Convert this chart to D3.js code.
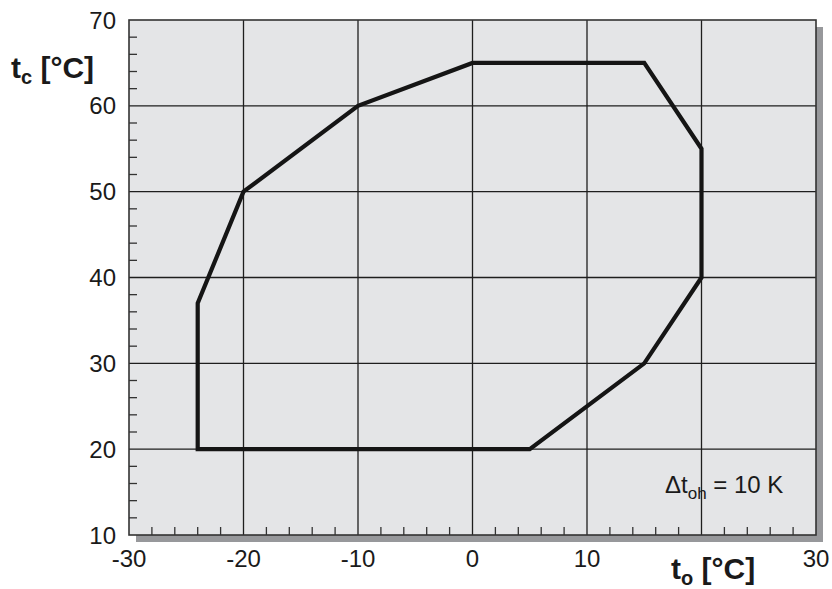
<!DOCTYPE html>
<html>
<head>
<meta charset="utf-8">
<script src="https://cdn.jsdelivr.net/npm/d3@7"></script>
<style>
  body { margin: 0; background: #fff; }
  svg text { font-family: "Liberation Sans", Arial, sans-serif; }
</style>
</head>
<body>
<div id="chart"></div>
<script>
// operating envelope, evaporating temp (x) vs condensing temp (y)
var envelopeTo = [-24, -24, 5, 15, 20, 20, 15, 0, -10, -20, -24];
var envelopeTc = [37, 20, 20, 30, 40, 55, 65, 65, 60, 50, 37];
var xTicks = [-30, -20, -10, 0, 10, 20, 30];
var xTickLabels = [-30, -20, -10, 0, 10, 30]; // 20 sits under the axis title
var yTicks = [10, 20, 30, 40, 50, 60, 70];

function init() {
    var w = 832, h = 589;
    var left = 129, right = 816, top = 20, bottom = 535;

    var x = d3.scaleLinear().domain([-30, 30]).range([left, right]);
    var y = d3.scaleLinear().domain([10, 70]).range([bottom, top]);

    var svg = d3.select("#chart").append("svg")
                .attr("width", w)
                .attr("height", h);

    // drop shadow
    svg.append("rect")
       .attr("x", left + 7).attr("y", top + 7)
       .attr("width", right - left).attr("height", bottom - top)
       .attr("fill", "#97989b");

    svg.append("rect")
       .attr("x", left).attr("y", top)
       .attr("width", right - left).attr("height", bottom - top)
       .attr("fill", "#e4e5e7");

    // minor ticks every 2 units
    var minorX = d3.range(-28, 30, 2).filter(function(v) { return v % 10 !== 0; });
    var minorY = d3.range(12, 70, 2).filter(function(v) { return v % 10 !== 0; });
    svg.append("g").selectAll("line").data(minorX).enter().append("line")
       .attr("x1", function(d) { return x(d); }).attr("x2", function(d) { return x(d); })
       .attr("y1", bottom).attr("y2", bottom - 8)
       .attr("stroke", "#333").attr("stroke-width", 1.3);
    svg.append("g").selectAll("line").data(minorY).enter().append("line")
       .attr("y1", function(d) { return y(d); }).attr("y2", function(d) { return y(d); })
       .attr("x1", left).attr("x2", left + 8)
       .attr("stroke", "#333").attr("stroke-width", 1.3);

    // grid
    svg.append("g").selectAll("line").data(xTicks.slice(1, -1)).enter().append("line")
       .attr("x1", function(d) { return x(d); }).attr("x2", function(d) { return x(d); })
       .attr("y1", top).attr("y2", bottom)
       .attr("stroke", "#1e1e1e").attr("stroke-width", 1.3);
    svg.append("g").selectAll("line").data(yTicks.slice(1, -1)).enter().append("line")
       .attr("y1", function(d) { return y(d); }).attr("y2", function(d) { return y(d); })
       .attr("x1", left).attr("x2", right)
       .attr("stroke", "#1e1e1e").attr("stroke-width", 1.3);

    svg.append("rect")
       .attr("x", left).attr("y", top)
       .attr("width", right - left).attr("height", bottom - top)
       .attr("fill", "none").attr("stroke", "#333").attr("stroke-width", 1.6);

    // tick labels
    svg.append("g").selectAll("text").data(yTicks).enter().append("text")
       .attr("x", left - 13).attr("y", function(d) { return y(d); })
       .attr("dy", "0.36em").attr("text-anchor", "end")
       .attr("font-size", 24).attr("fill", "#1a1a1a")
       .text(function(d) { return d; });
    svg.append("g").selectAll("text").data(xTickLabels).enter().append("text")
       .attr("x", function(d) { return x(d); }).attr("y", 567)
       .attr("text-anchor", "middle")
       .attr("font-size", 24).attr("fill", "#1a1a1a")
       .text(function(d) { return d; });

    // axis titles
    var yt = svg.append("text").attr("x", 11).attr("y", 78)
                .attr("font-size", 30).attr("font-weight", "bold").attr("fill", "#1a1a1a");
    yt.append("tspan").text("t");
    yt.append("tspan").attr("dy", 6).attr("font-size", 20).text("c");
    yt.append("tspan").attr("dy", -6).text(" [°C]");

    var xt = svg.append("text").attr("x", 671).attr("y", 579)
                .attr("font-size", 30).attr("font-weight", "bold").attr("fill", "#1a1a1a");
    xt.append("tspan").text("t");
    xt.append("tspan").attr("dy", 6).attr("font-size", 20).text("o");
    xt.append("tspan").attr("dy", -6).text(" [°C]");

    var note = svg.append("text").attr("x", 665).attr("y", 493)
                  .attr("font-size", 24).attr("fill", "#1a1a1a");
    note.append("tspan").text("Δt");
    note.append("tspan").attr("dy", 6).attr("font-size", 17).text("oh");
    note.append("tspan").attr("dy", -6).text(" = 10 K");

    // envelope
    var pts = envelopeTo.map(function(v, i) { return [v, envelopeTc[i]]; });
    var line = d3.line()
                 .x(function(d) { return x(d[0]); })
                 .y(function(d) { return y(d[1]); });
    svg.append("path")
       .attr("d", line(pts) + "Z")
       .attr("fill", "none")
       .attr("stroke", "#151515")
       .attr("stroke-width", 4.2)
       .attr("stroke-linejoin", "miter");
}

window.onload = init;
</script>
</body>
</html>
